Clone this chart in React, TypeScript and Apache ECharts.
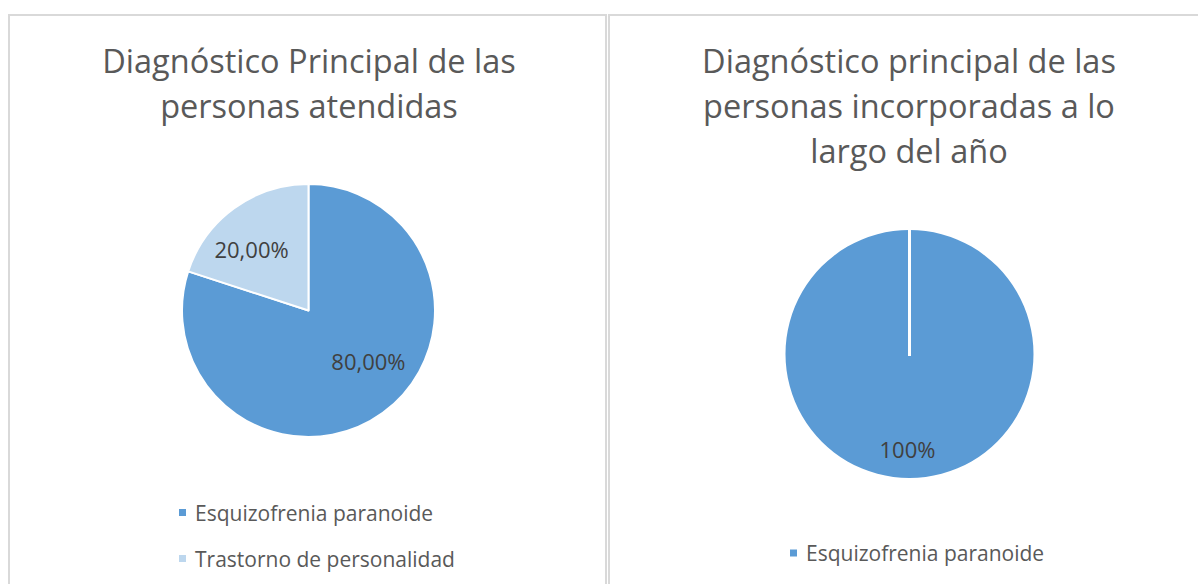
import React, { useEffect, useRef } from "react";
import * as echarts from "echarts";

// ---- data ----
const leftTitle = "Diagnóstico Principal de las\npersonas atendidas";
const rightTitle = "Diagnóstico principal de las\npersonas incorporadas a lo\nlargo del año";
const leftCategories = ["Esquizofrenia paranoide", "Trastorno de personalidad"];
const leftValues = [80, 20];
const rightCategories = ["Esquizofrenia paranoide"];
const rightValues = [100];

// ---- style / layout ----
const DARK = "#5b9bd5";
const LIGHT = "#bdd7ee";
const FONT = "Open Sans";
const LEFT_CENTER = [308.5, 310.5];
const LEFT_R = 126.5;
const RIGHT_CENTER = [909.5, 354];
const RIGHT_R = 124;
const leftColors = [DARK, LIGHT];
const leftLabelOffsets = [
  [21, -3],
  [-18, -8],
];
const rightLabelOffsets = [[-2, 30]];

const fmtLeft = (v: number) => v.toFixed(2).replace(".", ",") + "%";
const fmtRight = (v: number) => v.toFixed(0) + "%";

export default function App() {
  const ref = useRef<HTMLDivElement>(null);
  useEffect(() => {
    if (!ref.current) return;
    const chart = echarts.init(ref.current, undefined, { renderer: "svg" });
    const labelStyle = {
      show: true,
      position: "inside",
      fontFamily: FONT,
      fontSize: 22,
      color: "#404040",
    };
    const titleText = {
      fontFamily: FONT,
      fontSize: 32.5,
      fontWeight: "normal",
      color: "#595959",
      lineHeight: 45,
    };
    const legendText = {
      fontFamily: FONT,
      fontSize: 21,
      color: "#595959",
      lineHeight: 20,
      padding: [0, 0, 0, 3],
    };
    chart.setOption({
      animation: false,
      backgroundColor: "#ffffff",
      title: [
        {
          text: leftTitle,
          left: 309,
          top: 38,
          textAlign: "center",
          padding: 0,
          textStyle: titleText,
        },
        {
          text: rightTitle,
          left: 909,
          top: 38,
          textAlign: "center",
          padding: 0,
          textStyle: titleText,
        },
      ],
      legend: [
        {
          data: leftCategories,
          orient: "vertical",
          left: 177,
          top: 502,
          padding: 0,
          icon: "rect",
          itemWidth: 9,
          itemHeight: 9,
          itemGap: 25,
          selectedMode: false,
          textStyle: legendText,
        },
        {
          data: rightCategories,
          orient: "vertical",
          left: 788,
          top: 542.5,
          padding: 0,
          icon: "rect",
          itemWidth: 9,
          itemHeight: 9,
          selectedMode: false,
          textStyle: legendText,
        },
      ],
      graphic: [
        {
          type: "rect",
          z: 0,
          shape: { x: 9, y: 15, width: 597, height: 620 },
          style: { fill: "none", stroke: "#d9d9d9", lineWidth: 2 },
        },
        {
          type: "rect",
          z: 0,
          shape: { x: 609, y: 15, width: 620, height: 620 },
          style: { fill: "none", stroke: "#d9d9d9", lineWidth: 2 },
        },
        {
          type: "line",
          z: 100,
          shape: {
            x1: RIGHT_CENTER[0],
            y1: RIGHT_CENTER[1] - RIGHT_R,
            x2: RIGHT_CENTER[0],
            y2: RIGHT_CENTER[1] + 2,
          },
          style: { stroke: "#ffffff", lineWidth: 3 },
        },
      ],
      series: [
        {
          type: "pie",
          center: LEFT_CENTER,
          radius: [0, LEFT_R],
          startAngle: 90,
          clockwise: true,
          itemStyle: { borderColor: "#ffffff", borderWidth: 2 },
          label: { ...labelStyle, formatter: (p: any) => fmtLeft(p.value) },
          labelLine: { show: false },
          emphasis: { disabled: true },
          data: leftCategories.map((name, i) => ({
            name,
            value: leftValues[i],
            itemStyle: { color: leftColors[i] },
            label: { offset: leftLabelOffsets[i] },
          })),
        },
        {
          type: "pie",
          center: RIGHT_CENTER,
          radius: [0, RIGHT_R],
          startAngle: 90,
          clockwise: true,
          itemStyle: { borderColor: "#ffffff", borderWidth: 0 },
          label: { ...labelStyle, formatter: (p: any) => fmtRight(p.value) },
          labelLine: { show: false },
          emphasis: { disabled: true },
          data: rightCategories.map((name, i) => ({
            name,
            value: rightValues[i],
            itemStyle: { color: DARK },
            label: { offset: rightLabelOffsets[i] },
          })),
        },
      ],
    });
    return () => chart.dispose();
  }, []);
  return (
    <div
      ref={ref}
      style={{ position: "absolute", left: 0, top: 0, width: 1198, height: 584 }}
    />
  );
}
